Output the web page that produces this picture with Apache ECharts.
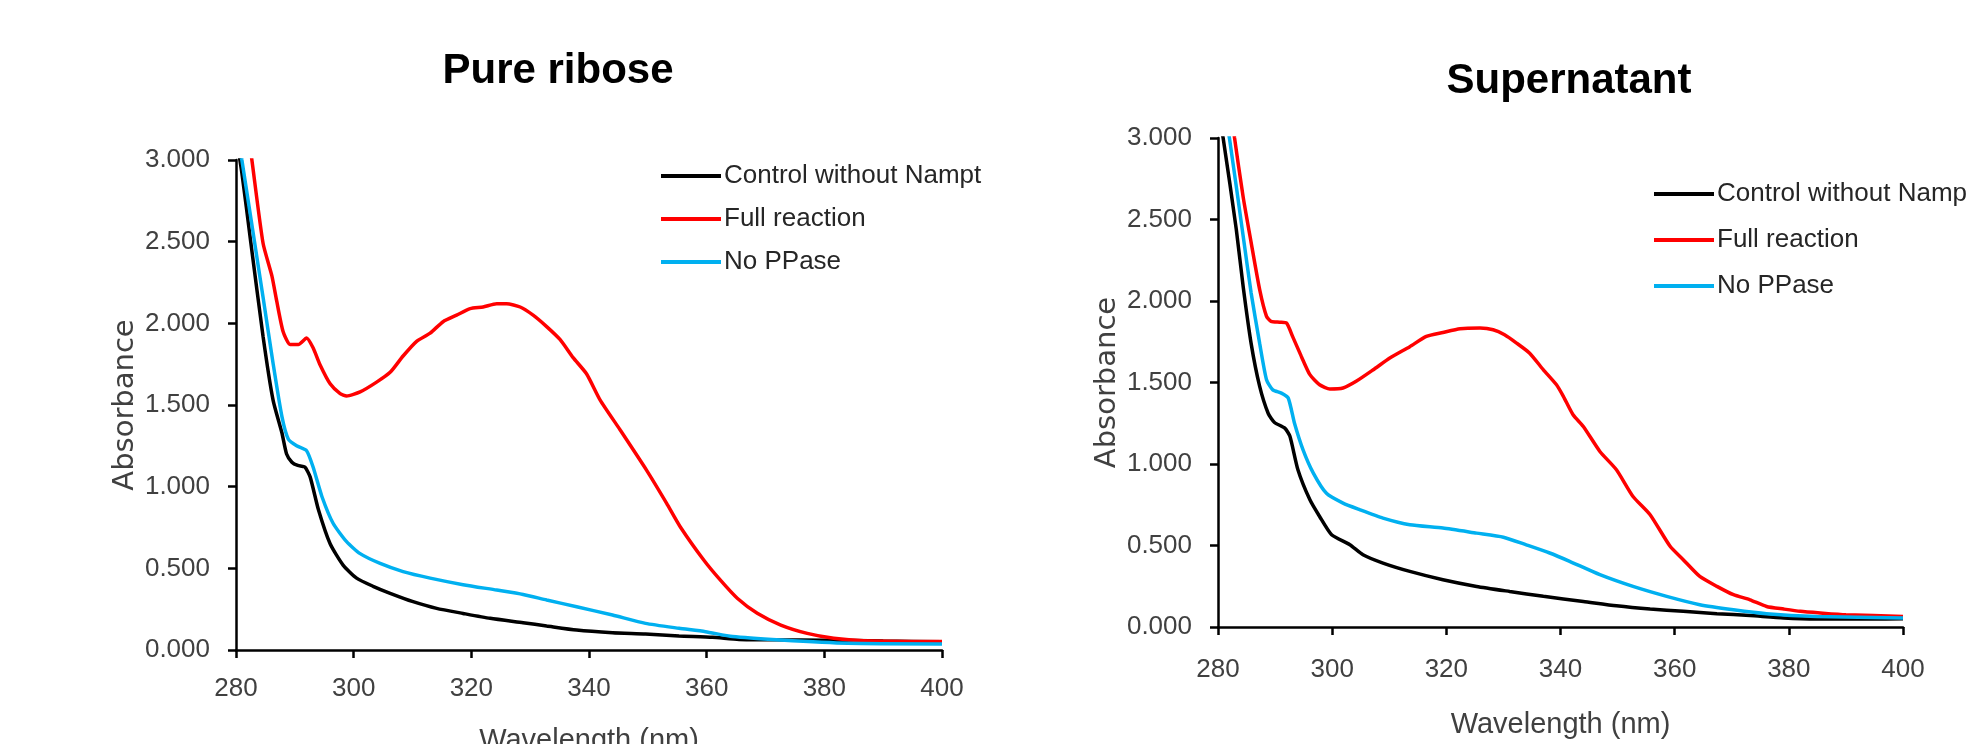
<!DOCTYPE html>
<html>
<head>
<meta charset="utf-8">
<title>Absorbance spectra</title>
<script src="https://cdn.jsdelivr.net/npm/echarts@6/dist/echarts.min.js"></script>
<style>
  html, body { margin: 0; padding: 0; background: #fff; }
  #chart { width: 1967px; height: 744px; }
</style>
</head>
<body>
<div id="chart"></div>
<script>
// panel titles and series names
var panelTitles = ['Pure ribose', 'Supernatant'];
var seriesNames = ['Control without Nampt', 'Full reaction', 'No PPase'];
var seriesColors = ['#000000', '#ff0000', '#00b0f0'];

// axis ranges / ticks
var xRange = [280, 400, 20];
var yRange = [0, 3, 0.5];

// Pure ribose: [wavelength nm, absorbance]
var riboseControl = [
  [280, 3.15], [281, 2.92], [282.5, 2.5], [284.6, 1.92], [286.3, 1.53], [287.8, 1.33],
  [288.6, 1.2], [289.5, 1.15], [290.5, 1.13], [291.7, 1.12], [292.6, 1.06], [294, 0.86],
  [296, 0.65], [298.2, 0.52], [300.5, 0.44], [303.3, 0.39], [306.2, 0.347], [310.1, 0.296],
  [314.1, 0.255], [318.6, 0.224], [323.2, 0.194], [328.8, 0.167], [332.8, 0.147],
  [337.9, 0.122], [344, 0.106], [349.6, 0.098], [355.3, 0.086], [361, 0.078],
  [365.5, 0.065], [372, 0.062], [380, 0.06], [390, 0.055], [400, 0.05]
];
var riboseFull = [
  [280, 3.72], [282.7, 3.0], [284.6, 2.49], [286.1, 2.29], [286.9, 2.14], [288, 1.95],
  [289.2, 1.87], [290.6, 1.87], [292, 1.91], [293.1, 1.85], [294.3, 1.745], [296, 1.63],
  [297.7, 1.57], [298.8, 1.555], [301.1, 1.58], [303.9, 1.64], [306.2, 1.7], [308.4, 1.8],
  [310.7, 1.89], [313, 1.94], [315.2, 2.01], [317.5, 2.05], [319.8, 2.09], [322, 2.1],
  [324.3, 2.12], [326, 2.12], [328.3, 2.1], [330.5, 2.05], [332.8, 1.98], [335.1, 1.9],
  [337.3, 1.79], [339.6, 1.69], [341.9, 1.53], [345.3, 1.347], [349.8, 1.1], [353.2, 0.898],
  [355.5, 0.755], [359.5, 0.551], [362.3, 0.429], [365.2, 0.317], [368.6, 0.225],
  [372.6, 0.153], [377.1, 0.102], [381.6, 0.072], [386.7, 0.057], [400, 0.052]
];
var riboseNoPPase = [
  [280, 3.25], [281, 3.0], [284.6, 2.16], [286.3, 1.755], [287.8, 1.43], [288.9, 1.29],
  [290.3, 1.25], [292, 1.22], [293.1, 1.12], [294.6, 0.94], [296.5, 0.776], [298.8, 0.663],
  [301.1, 0.59], [304.5, 0.53], [308.4, 0.48], [313, 0.44], [318.6, 0.4], [324.3, 0.367],
  [328.8, 0.34], [332.8, 0.306], [337.9, 0.265], [344, 0.214], [349.6, 0.163],
  [355.3, 0.133], [359.8, 0.112], [364.4, 0.082], [372.6, 0.061], [384, 0.041], [400, 0.037]
];

// Supernatant
var superControl = [
  [280, 3.15], [280.9, 3.0], [283.2, 2.44], [284.4, 2.09], [285.8, 1.74], [287.3, 1.476],
  [288.8, 1.31], [289.9, 1.255], [291.7, 1.22], [292.6, 1.17], [294, 0.965], [296.1, 0.78],
  [297.8, 0.678], [299.9, 0.566], [303.1, 0.505], [305.4, 0.443], [308.9, 0.392],
  [313.6, 0.341], [319.4, 0.29], [325.3, 0.249], [331.1, 0.218], [337, 0.188], [344, 0.157],
  [349.8, 0.13], [355.7, 0.11], [361.5, 0.096], [367.4, 0.082], [373.2, 0.07],
  [379.1, 0.055], [384.9, 0.049], [394.2, 0.049], [400, 0.05]
];
var superFull = [
  [280, 3.8], [282.9, 3.0], [284.4, 2.64], [285.8, 2.36], [287.3, 2.07], [288.5, 1.906],
  [289.3, 1.875], [290.8, 1.87], [292, 1.865], [293.1, 1.78], [294.6, 1.66], [296.1, 1.548],
  [297.8, 1.486], [299.6, 1.46], [301.9, 1.466], [304.2, 1.507], [307.2, 1.578], [310.1, 1.65],
  [313.6, 1.72], [316.5, 1.783], [319.4, 1.807], [322.4, 1.83], [325.9, 1.834], [328.2, 1.824],
  [330.2, 1.793], [332.3, 1.742], [334.6, 1.68], [337, 1.578], [339.3, 1.486], [340.5, 1.415],
  [342.2, 1.302], [344, 1.23], [346.9, 1.077], [349.8, 0.965], [352.7, 0.801], [355.7, 0.689],
  [359.2, 0.495], [361.5, 0.413], [364.4, 0.31], [367.4, 0.249], [370.3, 0.198],
  [373.2, 0.167], [376.1, 0.126], [379.1, 0.11], [382, 0.096], [385.5, 0.086], [390, 0.075],
  [400, 0.065]
];
var superNoPPase = [
  [280, 3.4], [282, 3.0], [284.4, 2.4], [285.8, 2.05], [287.3, 1.74], [288.5, 1.517],
  [289.6, 1.455], [291.1, 1.435], [292.3, 1.405], [293.4, 1.25], [294.9, 1.087], [296.7, 0.944],
  [299, 0.82], [301.9, 0.76], [304.8, 0.72], [308.9, 0.668], [313.6, 0.627], [319.4, 0.607],
  [325.3, 0.576], [330, 0.551], [334, 0.504], [338.1, 0.454], [341.6, 0.403], [346.9, 0.321],
  [352.7, 0.249], [358.6, 0.188], [364.4, 0.137], [370.3, 0.106], [376.1, 0.082],
  [384.9, 0.065], [400, 0.055]
];

var panelData = [
  [riboseControl, riboseFull, riboseNoPPase],
  [superControl, superFull, superNoPPase]
];

var chart = echarts.init(document.getElementById('chart'));
var labelFont = 'Liberation Sans, Arial, sans-serif';

function xAxisFor(i, labelGap, nameGap) {
  return {
    gridIndex: i,
    type: 'value',
    min: xRange[0], max: xRange[1], interval: xRange[2],
    name: 'Wavelength (nm)',
    nameLocation: 'middle',
    nameGap: nameGap,
    nameTextStyle: { fontFamily: labelFont, fontSize: 29, color: '#404040' },
    axisLine: { lineStyle: { color: '#000', width: 2.5 } },
    axisTick: { show: true, length: 8, lineStyle: { color: '#000', width: 2.5 } },
    axisLabel: { margin: labelGap, fontFamily: labelFont, fontSize: 26, color: '#404040' },
    splitLine: { show: false }
  };
}

function yAxisFor(i) {
  return {
    gridIndex: i,
    type: 'value',
    min: yRange[0], max: yRange[1], interval: yRange[2],
    name: 'Absorbance',
    nameLocation: 'middle',
    nameGap: 96,
    nameTextStyle: { fontFamily: 'DejaVu Sans, sans-serif', fontSize: 29, color: '#404040' },
    axisLine: { show: true, lineStyle: { color: '#000', width: 2.5 } },
    axisTick: { show: true, length: 8, lineStyle: { color: '#000', width: 2.5 } },
    axisLabel: {
      margin: 26, fontFamily: labelFont, fontSize: 26, color: '#404040',
      formatter: function (v) { return v.toFixed(3); }
    },
    splitLine: { show: false }
  };
}

function legendFor(left, top, gap) {
  return {
    orient: 'vertical',
    left: left, top: top,
    padding: 0,
    itemGap: gap,
    itemWidth: 60, itemHeight: 4,
    icon: 'rect',
    textStyle: { fontFamily: labelFont, fontSize: 26, color: '#262626', padding: [0, 0, 0, -2] },
    data: seriesNames
  };
}

var series = [];
panelData.forEach(function (sets, p) {
  sets.forEach(function (d, k) {
    series.push({
      name: seriesNames[k],
      type: 'line',
      xAxisIndex: p, yAxisIndex: p,
      data: d,
      showSymbol: false,
      symbol: 'none',
      clip: true,
      smooth: 0.2,
      color: seriesColors[k],
      lineStyle: { color: seriesColors[k], width: 3.5 }
    });
  });
});

chart.setOption({
  backgroundColor: '#fff',
  animation: false,
  title: [
    { text: panelTitles[0], left: 553, top: 45, textAlign: 'center',
      textStyle: { fontFamily: labelFont, fontWeight: 'bold', fontSize: 42, color: '#000' } },
    { text: panelTitles[1], left: 1564, top: 55, textAlign: 'center',
      textStyle: { fontFamily: labelFont, fontWeight: 'bold', fontSize: 42, color: '#000' } }
  ],
  legend: [legendFor(661, 163, 17), legendFor(1654, 181, 20)],
  grid: [
    { left: 236, top: 160, width: 706, height: 490, containLabel: false, outerBoundsMode: 'none' },
    { left: 1218, top: 138, width: 685, height: 489, containLabel: false, outerBoundsMode: 'none' }
  ],
  xAxis: [xAxisFor(0, 26, 76), xAxisFor(1, 30, 83)],
  yAxis: [yAxisFor(0), yAxisFor(1)],
  series: series
});
</script>
</body>
</html>
